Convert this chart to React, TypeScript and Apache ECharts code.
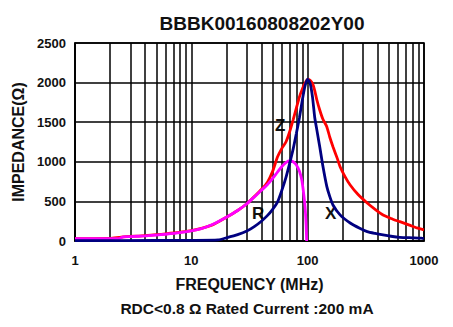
import React, { useEffect, useRef } from "react";
import * as echarts from "echarts";

const titleText = "BBBK00160808202Y00";
const subtitleText = "RDC<0.8 Ω Rated Current :200 mA";
const xName = "FREQUENCY (MHz)";
const yName = "IMPEDANCE(Ω)";

const xTickLabels = [1, 10, 100, 1000];
const yTicks = [0, 500, 1000, 1500, 2000, 2500];
const minorGrid = [2, 3, 4, 5, 6, 7, 8, 9, 20, 30, 40, 50, 60, 70, 80, 90, 200, 300, 400, 500, 600, 700, 800, 900];

// Z (impedance)
const zFreq = [1, 2, 2.5, 4, 6, 10, 15, 20, 25, 30, 35, 40, 45, 50, 55, 60, 65, 70, 75, 80, 85, 90, 95, 100, 105, 110, 115, 120, 127, 135, 146, 155, 165, 180, 190, 210, 232, 270, 325, 380, 445, 520, 620, 750, 870, 1000];
const zVal = [30, 32, 50, 68, 90, 130, 200, 300, 385, 470, 565, 650, 740, 880, 1060, 1170, 1250, 1380, 1530, 1680, 1820, 1920, 1995, 2040, 2030, 1990, 1900, 1780, 1654, 1540, 1444, 1310, 1191, 1040, 938, 810, 707, 590, 480, 400, 328, 285, 244, 200, 165, 140];

// R (resistance)
const rFreq = [1, 2.4, 2.6, 3, 4, 5, 6, 8, 10, 12, 15, 20, 25, 30, 35, 40, 45, 50, 55, 60, 65, 70, 75, 80, 85, 89, 92, 95, 97, 98];
const rVal = [30, 32, 52, 56, 64, 75, 85, 105, 128, 152, 205, 300, 385, 470, 560, 640, 710, 790, 870, 940, 990, 1015, 1000, 960, 880, 770, 620, 433, 200, 0];

// X (reactance)
const xFreq = [1, 5, 10, 17, 20, 25, 30, 35, 40, 45, 50, 55, 60, 65, 70, 75, 80, 85, 90, 95, 100, 105, 110, 115, 120, 127, 135, 146, 155, 165, 190, 232, 280, 325, 380, 445, 520, 620, 800, 950, 1000];
const xVal = [5, 6, 8, 14, 40, 80, 125, 185, 250, 320, 400, 490, 640, 800, 980, 1160, 1360, 1560, 1780, 1960, 2045, 1990, 1820, 1560, 1400, 1190, 950, 690, 560, 455, 330, 227, 160, 118, 95, 76, 60, 47, 40, 35, 30];

const pairs = (f: number[], v: number[]) => f.map((x, i) => [x, v[i]]);

const FONT = "'Liberation Sans', Arial, sans-serif";

export default function App() {
  const ref = useRef<HTMLDivElement>(null);
  useEffect(() => {
    if (!ref.current) return;
    const chart = echarts.init(ref.current, null, { renderer: "svg" });
    chart.setOption({
      animation: false,
      backgroundColor: "#fff",
      title: [
        {
          text: titleText,
          left: 257,
          top: 9,
          textAlign: "center",
          textStyle: { fontFamily: FONT, fontWeight: "bold", fontSize: 19, color: "#111" },
        },
        {
          text: subtitleText,
          left: 242,
          top: 295,
          textAlign: "center",
          textStyle: { fontFamily: FONT, fontWeight: "bold", fontSize: 15.5, color: "#111" },
        },
      ],
      grid: {
        left: 75,
        right: 29,
        top: 43,
        bottom: 86,
        show: true,
        borderColor: "#000",
        borderWidth: 1.6,
        backgroundColor: "transparent",
      },
      xAxis: {
        type: "log",
        logBase: 10,
        min: 1,
        max: 1000,
        name: xName,
        nameLocation: "middle",
        nameGap: 35,
        nameTextStyle: { fontFamily: FONT, fontWeight: "bold", fontSize: 16, color: "#111" },
        axisLine: { show: true, lineStyle: { color: "#000", width: 1.6 } },
        axisTick: { show: false },
        splitLine: { show: true, lineStyle: { color: "#000", width: 1.5 } },
        minorTick: { show: false },
        axisLabel: {
          margin: 13,
          fontFamily: FONT,
          fontWeight: "bold",
          fontSize: 13,
          color: "#111",
          formatter: (v: number) => (xTickLabels.includes(Math.round(v)) ? String(Math.round(v)) : ""),
        },
      },
      yAxis: {
        type: "value",
        min: 0,
        max: 2500,
        interval: 500,
        name: yName,
        nameLocation: "middle",
        nameRotate: 90,
        nameGap: 43,
        nameTextStyle: { fontFamily: FONT, fontWeight: "bold", fontSize: 16, color: "#111" },
        axisLine: { show: true, lineStyle: { color: "#000", width: 1.6 } },
        axisTick: { show: false },
        splitLine: { show: true, lineStyle: { color: "#000", width: 1.5 } },
        axisLabel: {
          margin: 9,
          fontFamily: FONT,
          fontWeight: "bold",
          fontSize: 13,
          color: "#111",
          formatter: (v: number) => (yTicks.includes(v) ? String(v) : ""),
        },
      },
      series: [
        {
          name: "Z",
          type: "line",
          data: pairs(zFreq, zVal),
          showSymbol: false,
          lineStyle: { color: "#ff0000", width: 2.8 },
          smooth: 0.2,
          z: 3,
          markLine: {
            silent: true,
            symbol: "none",
            label: { show: false },
            lineStyle: { color: "#000", width: 1.5, type: "solid" },
            data: minorGrid.map((v) => ({ xAxis: v })),
            z: 1,
          },
        },
        {
          name: "R",
          type: "line",
          data: pairs(rFreq, rVal),
          showSymbol: false,
          lineStyle: { color: "#ff00ff", width: 2.8 },
          smooth: 0.2,
          z: 4,
        },
        {
          name: "X",
          type: "line",
          data: pairs(xFreq, xVal),
          showSymbol: false,
          lineStyle: { color: "#000080", width: 2.8 },
          smooth: 0.2,
          z: 5,
        },
      ],
      graphic: [
        { type: "text", left: 275, top: 117, style: { text: "Z", fontFamily: FONT, fontWeight: "bold", fontSize: 17, fill: "#111" } },
        { type: "text", left: 252, top: 205, style: { text: "R", fontFamily: FONT, fontWeight: "bold", fontSize: 17, fill: "#111" } },
        { type: "text", left: 325, top: 205, style: { text: "X", fontFamily: FONT, fontWeight: "bold", fontSize: 17, fill: "#111" } },
      ],
    });
    return () => chart.dispose();
  }, []);
  return <div ref={ref} style={{ width: 453, height: 327, margin: -8 }} />;
}
